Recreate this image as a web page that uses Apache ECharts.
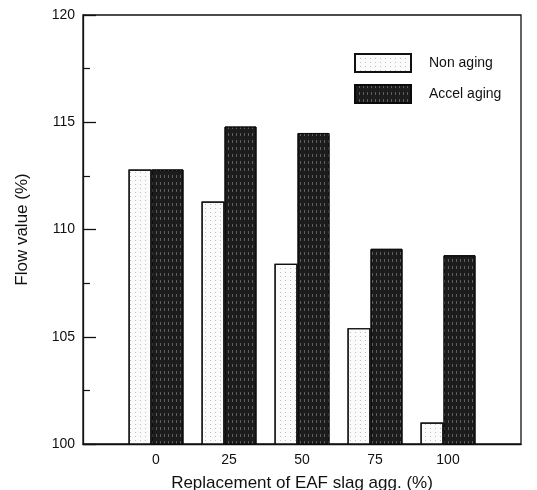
<!DOCTYPE html>
<html>
<head>
<meta charset="utf-8">
<script src="https://cdn.jsdelivr.net/npm/echarts@6/dist/echarts.min.js"></script>
<style>
  html, body { margin: 0; padding: 0; background: #fff; }
  #chart { width: 537px; height: 490px; }
</style>
</head>
<body>
<div id="chart"></div>
<script>
// Replacement ratio of EAF slag aggregate (%) and flow values (%)
const replacement = [0, 25, 50, 75, 100];
const nonAging = [112.8, 111.3, 108.4, 105.4, 101.0];
const accelAging = [112.8, 114.8, 114.5, 109.1, 108.8];
const seriesNames = ['Non aging', 'Accel aging'];
const yTicks = [100, 105, 110, 115, 120];

const font = '"Liberation Sans", Arial, sans-serif';

const chart = echarts.init(document.getElementById('chart'), null, { renderer: 'canvas' });

chart.setOption({
  animation: false,
  backgroundColor: '#fff',
  grid: {
    left: 83, right: 16, top: 15, bottom: 46,
    outerBoundsMode: 'none',
    containLabel: false,
    show: true, borderColor: '#111', borderWidth: 1.3, backgroundColor: 'transparent'
  },
  legend: {
    orient: 'vertical',
    left: 354, top: 53, padding: 0,
    icon: 'rect',
    itemWidth: 56, itemHeight: 18, itemGap: 11,
    textStyle: { fontFamily: font, fontSize: 14, lineHeight: 18, color: '#111', padding: [0, 0, 0, 13] },
    data: seriesNames
  },
  xAxis: {
    type: 'value',
    min: -25, max: 125, interval: 25,
    name: 'Replacement of EAF slag agg. (%)',
    nameLocation: 'middle', nameGap: 31,
    nameTextStyle: { fontFamily: font, fontSize: 17, color: '#111' },
    axisLine: { show: true, onZero: false, lineStyle: { color: '#111', width: 1.3 } },
    axisTick: { show: false },
    splitLine: { show: false },
    axisLabel: {
      fontFamily: font, fontSize: 14, color: '#111', margin: 9,
      formatter: v => replacement.includes(v) ? String(v) : ''
    }
  },
  yAxis: {
    type: 'value',
    min: yTicks[0], max: yTicks[yTicks.length - 1], interval: 5,
    name: 'Flow value (%)',
    nameLocation: 'middle', nameGap: 52,
    nameTextStyle: { fontFamily: font, fontSize: 17, color: '#111' },
    axisLine: { show: true, onZero: false, lineStyle: { color: '#111', width: 1.3 } },
    axisTick: { show: true, inside: true, length: 13, lineStyle: { color: '#111', width: 1.3 } },
    minorTick: { show: true, splitNumber: 2, length: 7, lineStyle: { color: '#111', width: 1.2 } },
    splitLine: { show: false },
    axisLabel: { fontFamily: font, fontSize: 14, color: '#111', margin: 8 }
  },
  series: [
    {
      name: seriesNames[0],
      type: 'bar',
      barWidth: 23,
      barGap: '0%',
      data: replacement.map((x, i) => [x, nonAging[i]]),
      itemStyle: {
        color: '#fbfbfb',
        borderColor: '#111',
        borderWidth: 1.2,
        decal: {
          symbol: 'rect', symbolSize: 1,
          color: 'rgba(120,120,120,0.45)',
          dashArrayX: [1, 4], dashArrayY: [1, 3], rotation: 0
        }
      }
    },
    {
      name: seriesNames[1],
      type: 'bar',
      barWidth: 32,
      barGap: '0%',
      data: replacement.map((x, i) => [x, accelAging[i]]),
      itemStyle: {
        color: '#1c1c1c',
        borderColor: '#0a0a0a',
        borderWidth: 1,
        decal: {
          symbol: 'rect', symbolSize: 1,
          color: 'rgba(150,150,150,0.55)',
          dashArrayX: [1, 3], dashArrayY: [3, 4], rotation: 0
        }
      }
    }
  ]
});
</script>
</body>
</html>
